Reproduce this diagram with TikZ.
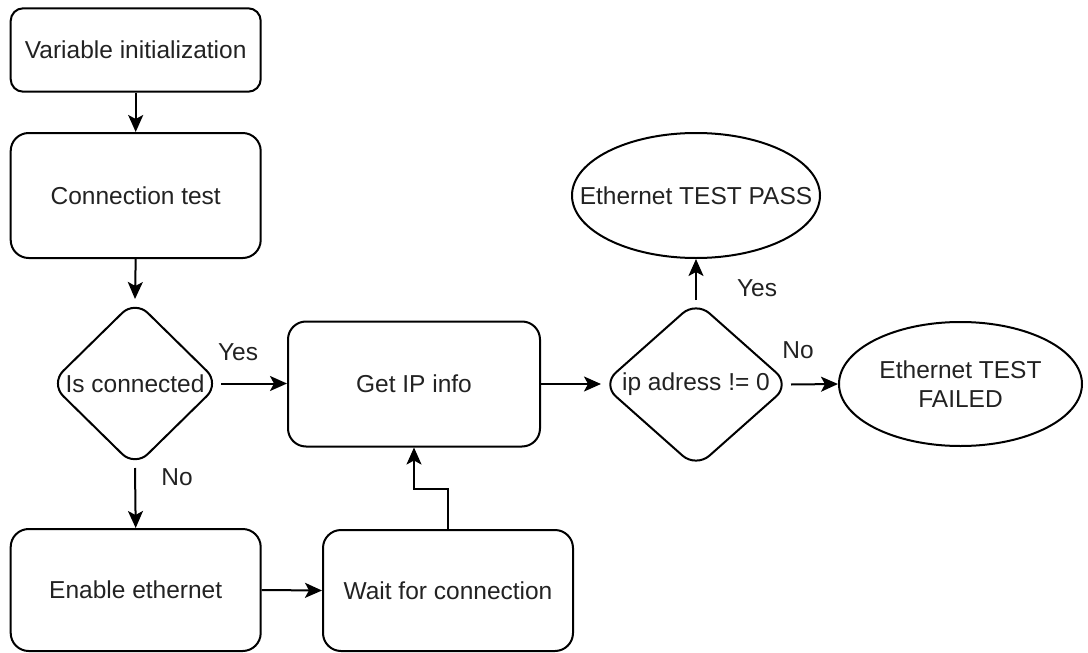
\documentclass[tikz,border=0pt]{standalone}
\usepackage{fontspec}
\setmainfont{Liberation Sans}
\usetikzlibrary{shapes.geometric,arrows.meta}
\definecolor{txt}{HTML}{222222}
\tikzset{
  every node/.style={font=\fontsize{24.5}{29.4}\selectfont, text=txt},
  box/.style={draw, line width=2pt, rectangle, minimum width=250pt, inner sep=0pt},
  dec/.style={draw, line width=2pt, diamond, inner sep=0pt, rounded corners=18pt},
  term/.style={draw, line width=2pt, ellipse, inner sep=0pt},
  arr/.style={line width=2pt, -{Stealth[length=17pt, width=15pt, inset=4pt]}},
  lbl/.style={inner sep=0pt}
}
\begin{document}
\begin{tikzpicture}[x=1pt, y=-1pt]
\useasboundingbox (0,0) rectangle (1088,653);
\node[box, minimum height=83.4pt, rounded corners=12.5pt] (vinit) at (135.7,50) {Variable initialization};
\node[box, minimum height=125pt, rounded corners=18pt] (ctest) at (135.7,195.5) {Connection test};
\node[dec, minimum width=170pt, minimum height=167pt, label={[lbl]center:Is connected}] (isconn) at (135,383.5) {};
\node[box, minimum width=252pt, minimum height=125pt, rounded corners=18pt] (getip) at (414,384) {Get IP info};
\node[dec, minimum width=188pt, minimum height=167pt, label={[lbl]center:ip adress != 0}] (ipaddr) at (696,384.5) {};
\node[term, minimum width=248pt, minimum height=125pt, label={[lbl]center:Ethernet TEST PASS}] (pass) at (696,195.5) {};
\node[term, minimum width=243pt, minimum height=124pt, label={[lbl, align=center]center:Ethernet TEST\\FAILED}] (fail) at (960.5,384) {};
\node[box, minimum height=122pt, rounded corners=18pt] (enable) at (135.7,590) {Enable ethernet};
\node[box, minimum height=121pt, rounded corners=18pt] (wait) at (448,590.5) {Wait for connection};
\coordinate (bend) at (431,489);

\draw[arr] (vinit) -- (ctest);
\draw[arr] (ctest.south) -- (isconn.north);
\draw[arr] (isconn.east) -- (getip.west |- isconn.east);
\draw[arr] (isconn.south) -- (enable.north);
\draw[arr] (enable.east) -- (wait.west);
\draw[arr] (wait.north) |- (bend) -| (getip.south);
\draw[arr] (getip.east) -- (ipaddr.west |- getip.east);
\draw[arr] (ipaddr.north) -- (pass.south);
\draw[arr] (ipaddr.east) -- (fail.west);

\node[lbl] (yes1) at (238,352) {Yes};
\node[lbl] (no1) at (177,477) {No};
\node[lbl] (yes2) at (757,288) {Yes};
\node[lbl] (no2) at (798,350) {No};
\end{tikzpicture}
\end{document}
